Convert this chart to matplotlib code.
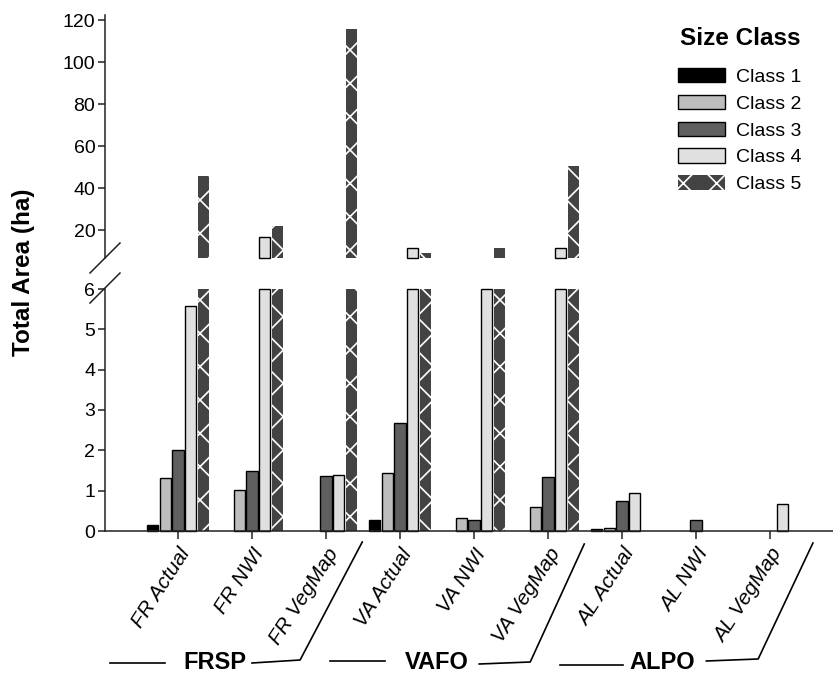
import numpy as np
import matplotlib.pyplot as plt
from matplotlib.lines import Line2D
from matplotlib.transforms import blended_transform_factory

plt.rcParams['font.family'] = ['Liberation Sans', 'DejaVu Sans']
plt.rcParams['hatch.linewidth'] = 1.2

# data (ha)
sites = ['FR Actual', 'FR NWI', 'FR VegMap',
         'VA Actual', 'VA NWI', 'VA VegMap',
         'AL Actual', 'AL NWI', 'AL VegMap']
groups = ['FRSP', 'VAFO', 'ALPO']
classes = ['Class 1', 'Class 2', 'Class 3', 'Class 4', 'Class 5']

class1 = [0.15, 0, 0, 0.27, 0, 0, 0.04, 0, 0]
class2 = [1.32, 1.02, 0, 1.43, 0.32, 0.60, 0.07, 0, 0]
class3 = [2.00, 1.50, 1.36, 2.67, 0.27, 1.33, 0.74, 0.28, 0]
class4 = [5.59, 16.7, 1.39, 11.4, 6.4, 11.4, 0.93, 0, 0.66]
class5 = [45.7, 21.9, 115.7, 9.0, 11.4, 50.5, 0, 0, 0]
values = [class1, class2, class3, class4, class5]

colors = ['#000000', '#bdbdbd', '#5f5f5f', '#e0e0e0', '#434343']

W, H = 833, 674
fig = plt.figure(figsize=(W / 100, H / 100), dpi=100)


def box(x0, y0, x1, y1):
    return [x0 / W, 1 - y1 / H, (x1 - x0) / W, (y1 - y0) / H]


ax_lo = fig.add_axes(box(105, 289, 833, 531))
ax_hi = fig.add_axes(box(105, 15, 833, 258))

lo_top = 6
hi_lim = (6.67, 122.4)
x = np.arange(len(sites))

for k in range(5):
    v = np.array(values[k], dtype=float)
    xs = x + (k - 2) * 0.17
    style = dict(width=0.15, color=colors[k], edgecolor='black', linewidth=1.0)
    if k == 4:
        style.update(edgecolor='white', linewidth=0, hatch='x')
    m = v > 0
    ax_lo.bar(xs[m], np.minimum(v[m], lo_top), clip_on=False,
              label=classes[k], **style)
    m = v > hi_lim[0]
    ax_hi.bar(xs[m], v[m] - hi_lim[0], bottom=hi_lim[0], clip_on=False, **style)

for ax in (ax_lo, ax_hi):
    ax.set_xlim(-73 / 74, 655 / 74)
    ax.spines['top'].set_visible(False)
    ax.spines['right'].set_visible(False)
    for s in ax.spines.values():
        s.set_linewidth(1.1)
        s.set_color('#222222')
    ax.tick_params(axis='y', direction='out', length=5, width=1.1,
                   labelsize=14, pad=2, color='#222222')

ax_lo.set_ylim(0, lo_top)
ax_lo.set_yticks(range(0, 7))
ax_hi.set_ylim(*hi_lim)
ax_hi.set_yticks(range(20, 121, 20))
ax_hi.spines['bottom'].set_visible(False)
ax_hi.set_xticks([])

ax_lo.set_xticks(x)
ax_lo.set_xticklabels(sites, rotation=57, ha='right', va='top',
                      rotation_mode='anchor', fontstyle='italic', fontsize=15)
ax_lo.tick_params(axis='x', direction='out', length=6, width=1.1, pad=4,
                  color='#222222')

# axis break marks
for (x0, y0, x1, y1) in [(90, 273, 120, 243), (90, 303, 120, 273)]:
    fig.add_artist(Line2D([x0 / W, x1 / W], [1 - y0 / H, 1 - y1 / H],
                          transform=fig.transFigure, color='#222222', lw=1.1))

fig.text(24 / W, 1 - 272 / H, 'Total Area (ha)', rotation=90, fontsize=17.5,
         fontweight='bold', ha='center', va='center')

# group labels with bracket lines
tr = blended_transform_factory(ax_lo.transData, fig.transFigure)
group_lines = [
    ([(-0.92, 663), (-0.18, 663)], [(1.0, 663), (1.65, 660), (2.49, 542)]),
    ([(-0.95, 661), (-0.20, 661)], [(1.07, 664), (1.76, 662), (2.49, 544)]),
    ([(-0.84, 665), (0.01, 665)], [(1.14, 661), (1.84, 659), (2.58, 543)]),
]
text_pos = [0.5, 0.5, 0.55]
for g, name in enumerate(groups):
    base = 3 * g
    ax_lo.text(base + text_pos[g], 1 - 669 / H, name, transform=tr,
               fontsize=17, fontweight='bold', ha='center', va='baseline')
    for seg in group_lines[g]:
        xs = [base + p[0] for p in seg]
        ys = [1 - p[1] / H for p in seg]
        ax_lo.add_line(Line2D(xs, ys, transform=tr, color='black', lw=1.2,
                              clip_on=False))

# legend
fig.text(680 / W, 1 - 45 / H, 'Size Class', fontsize=17.5, fontweight='bold',
         ha='left', va='baseline')
fig.legend(loc='upper left', bbox_to_anchor=(678 / W, 1 - 68 / H),
           frameon=False, fontsize=14, handlelength=2.42, handleheight=0.77,
           handletextpad=0.57, labelspacing=0.45, borderpad=0,
           borderaxespad=0)

fig.savefig('out.png', dpi=100)
